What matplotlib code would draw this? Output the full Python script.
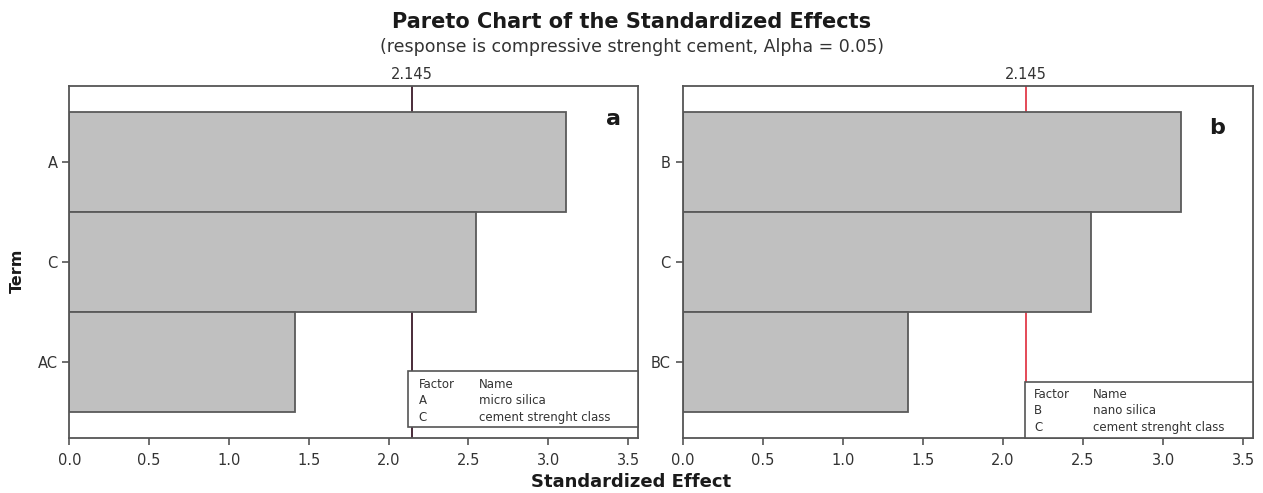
import matplotlib.pyplot as plt
from matplotlib.patches import Rectangle

# data
terms_a = ['A', 'C', 'AC']
effects_a = [3.11, 2.55, 1.415]
terms_b = ['B', 'C', 'BC']
effects_b = [3.11, 2.55, 1.41]
t_crit = 2.145
legend_a = [('A', 'micro silica'), ('C', 'cement strenght class')]
legend_b = [('B', 'nano silica'), ('C', 'cement strenght class')]

plt.rcParams['font.family'] = ['DejaVu Sans']

fig = plt.figure(figsize=(12.63, 4.93), dpi=100)
ax_a = fig.add_axes([0.0549, 0.1116, 0.4500, 0.714])
ax_b = fig.add_axes([0.5404, 0.1116, 0.4515, 0.714])

spine_col = '#555555'
text_col = '#333333'


def draw_panel(ax, terms, effects, line_col, panel, leg_rows, leg_box, leg_pos):
    y = list(range(len(terms)))
    ax.barh(y, effects, height=1.0, color='#c0c0c0', edgecolor='#5a5a5a', linewidth=1.3, zorder=2)
    ax.axvline(t_crit, color=line_col, linewidth=1.3, zorder=1)
    ax.set_xlim(0, 3.56)
    ax.set_ylim(2.757, -0.757)
    ax.set_yticks(y)
    ax.set_yticklabels(terms)
    ax.set_xticks([0.0, 0.5, 1.0, 1.5, 2.0, 2.5, 3.0, 3.5])
    ax.set_xticklabels(['0.0', '0.5', '1.0', '1.5', '2.0', '2.5', '3.0', '3.5'])
    ax.tick_params(axis='both', direction='out', length=5, width=1.2, color=spine_col,
                   labelsize=10.5, labelcolor=text_col)
    ax.tick_params(axis='x', pad=6)
    for s in ax.spines.values():
        s.set_color(spine_col)
        s.set_linewidth(1.3)
    # critical value label on top
    ax.text(t_crit, 1.01, f'{t_crit:.3f}', transform=ax.get_xaxis_transform(),
            ha='center', va='bottom', fontsize=10.5, color=text_col)
    ax.text(panel[1], panel[2], panel[0], transform=ax.transAxes, ha='center', va='center',
            fontsize=16, fontweight='bold', color='#1a1a1a')
    # factor table
    x0, y0, w, h = leg_box
    ax.add_patch(Rectangle((x0, y0), w, h, transform=ax.transAxes, facecolor='white',
                           edgecolor=spine_col, linewidth=1.2, zorder=5, clip_on=False))
    fx, nx, ry, dy = leg_pos
    ax.text(fx, ry, 'Factor', transform=ax.transAxes, fontsize=8.5, color=text_col, zorder=6, va='center')
    ax.text(nx, ry, 'Name', transform=ax.transAxes, fontsize=8.5, color=text_col, zorder=6, va='center')
    for i, (f, n) in enumerate(leg_rows):
        yy = ry - dy * (i + 1)
        ax.text(fx, yy, f, transform=ax.transAxes, fontsize=8.5, color=text_col, zorder=6, va='center')
        ax.text(nx, yy, n, transform=ax.transAxes, fontsize=8.5, color=text_col, zorder=6, va='center')


draw_panel(ax_a, terms_a, effects_a, '#3a1a2a', ('a', 0.957, 0.905), legend_a,
           (0.596, 0.03, 0.404, 0.16), (0.615, 0.72, 0.153, 0.047))
draw_panel(ax_b, terms_b, effects_b, '#e23a4a', ('b', 0.937, 0.88), legend_b,
           (0.600, 0.0, 0.400, 0.16), (0.617, 0.72, 0.124, 0.047))

fig.text(0.5, 0.955, 'Pareto Chart of the Standardized Effects', ha='center', va='center',
         fontsize=15, fontweight='bold', color='#1a1a1a')
fig.text(0.5, 0.905, '(response is compressive strenght cement, Alpha = 0.05)', ha='center',
         va='center', fontsize=12.5, color=text_col)
fig.text(0.014, 0.45, 'Term', rotation=90, ha='center', va='center', fontsize=11.5,
         fontweight='bold', color='#1a1a1a')
fig.text(0.5, 0.022, 'Standardized Effect', ha='center', va='center', fontsize=13,
         fontweight='bold', color='#1a1a1a')

fig.savefig('out.png', dpi=100)
